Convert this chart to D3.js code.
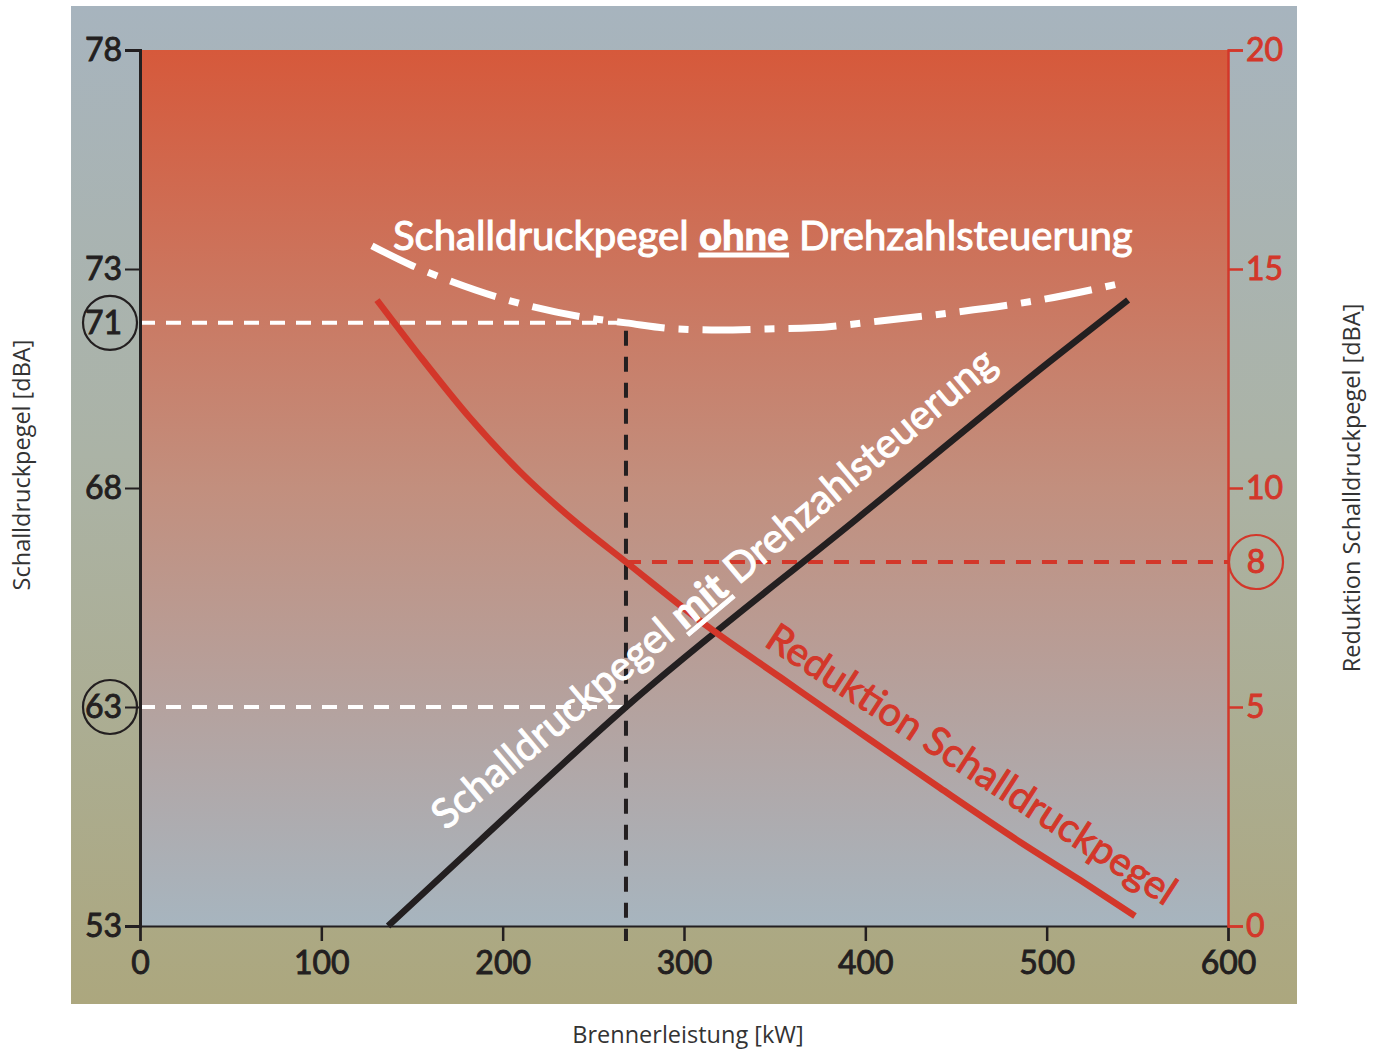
<!DOCTYPE html>
<html>
<head>
<meta charset="utf-8">
<script src="https://cdn.jsdelivr.net/npm/d3@7"></script>
<style>
  body { margin: 0; background: #fff; }
  svg { display: block; }
</style>
</head>
<body>
<svg id="chart"></svg>
<script>
// ---- data ----
const xTicks = [0, 100, 200, 300, 400, 500, 600];
const leftTicks = [53, 63, 68, 73, 78];
const rightTicks = [0, 5, 10, 15, 20];

// the drawing uses an uneven left axis; these are the values at its break points
const leftBreaks = [53, 63, 68, 71, 73, 78];
const rightBreaks = [0, 5, 8, 10, 15, 20];

// marked operating point
const markKw = 268;
const markOhne = 71;
const markMit = 63;
const markRed = 8;

// Schalldruckpegel mit Drehzahlsteuerung [dBA]
const mitKw = [136.8, 187.5, 268, 395.4, 501.8, 544.9];
const mitDb = [53.0, 56.9, 63.0, 67.3, 70.3, 71.85];

// Schalldruckpegel ohne Drehzahlsteuerung [dBA]
const ohneKw = [127.9, 150.5, 172.6, 198.5, 246.5, 268, 296.1, 319.8, 345.8, 370.6, 408.1, 446.7, 496.3, 544.3];
const ohneDb = [73.53, 73.07, 72.52, 71.93, 71.19, 71.0, 70.89, 70.87, 70.89, 70.91, 71.07, 71.37, 71.85, 72.52];

// Reduktion Schalldruckpegel [dBA]
const redKw = [130.7, 154.4, 182.0, 209.6, 238.8, 268, 314.3, 352.9, 397.1, 441.2, 485.3, 518.4, 548.7];
const redDb = [14.29, 13.01, 11.60, 10.37, 9.14, 8.0, 6.63, 5.62, 4.41, 3.15, 1.92, 1.05, 0.23];

// ---- layout ----
const W = 1378, H = 1050;
const plot = { left: 140, top: 50, right: 1228, bottom: 926 };
const red = "#d3372a";
const ink = "#231f20";

const svg = d3.select("#chart").attr("width", W).attr("height", H);
const defs = svg.append("defs");

const gOuter = defs.append("linearGradient").attr("id", "outerGrad")
  .attr("x1", 0).attr("y1", 0).attr("x2", 0).attr("y2", 1);
gOuter.append("stop").attr("offset", 0).attr("stop-color", "#a7b4be");
gOuter.append("stop").attr("offset", 0.45).attr("stop-color", "#abb3a6");
gOuter.append("stop").attr("offset", 1).attr("stop-color", "#aca77e");

const gPlot = defs.append("linearGradient").attr("id", "plotGrad")
  .attr("x1", 0).attr("y1", 0).attr("x2", 0).attr("y2", 1);
gPlot.append("stop").attr("offset", 0).attr("stop-color", "#d6593b");
gPlot.append("stop").attr("offset", 0.5).attr("stop-color", "#c28f7e");
gPlot.append("stop").attr("offset", 1).attr("stop-color", "#a7b5bf");

svg.append("rect").attr("width", W).attr("height", H).attr("fill", "#fff");
svg.append("rect").attr("x", 71).attr("y", 6).attr("width", 1226).attr("height", 998)
  .attr("fill", "url(#outerGrad)");
svg.append("rect").attr("x", plot.left).attr("y", plot.top)
  .attr("width", plot.right - plot.left).attr("height", plot.bottom - plot.top)
  .attr("fill", "url(#plotGrad)");

// scales
const x = d3.scaleLinear().domain([0, 600]).range([plot.left, plot.right]);
const yBase = d3.scaleLinear().domain([0, 20]).range([plot.bottom, plot.top]);
const yL = d3.scaleLinear().domain(leftBreaks).range([0, 5, 10, 13.77, 15, 20].map(yBase));
const yR = d3.scaleLinear().domain(rightBreaks).range([0, 5, 8.31, 10, 15, 20].map(yBase));

// reference dashes
const dash = "15 11";
svg.append("line")
  .attr("x1", x(0)).attr("x2", x(markKw)).attr("y1", yL(markOhne)).attr("y2", yL(markOhne))
  .attr("stroke", "#fff").attr("stroke-width", 4).attr("stroke-dasharray", dash);
svg.append("line")
  .attr("x1", x(0)).attr("x2", x(markKw)).attr("y1", yL(markMit)).attr("y2", yL(markMit))
  .attr("stroke", "#fff").attr("stroke-width", 4).attr("stroke-dasharray", dash);
svg.append("line")
  .attr("x1", x(markKw)).attr("x2", x(600)).attr("y1", yR(markRed)).attr("y2", yR(markRed))
  .attr("stroke", red).attr("stroke-width", 4).attr("stroke-dasharray", dash);
svg.append("line")
  .attr("x1", x(markKw)).attr("x2", x(markKw)).attr("y1", yL(markOhne) + 8).attr("y2", plot.bottom + 15)
  .attr("stroke", ink).attr("stroke-width", 4).attr("stroke-dasharray", dash);

// curves
const line = (ys) => d3.line().x(d => x(d[0])).y(d => ys(d[1])).curve(d3.curveMonotoneX);

svg.append("path").datum(d3.zip(mitKw, mitDb))
  .attr("d", line(yL)).attr("fill", "none").attr("stroke", ink).attr("stroke-width", 6.5);

svg.append("path").datum(d3.zip(redKw, redDb))
  .attr("d", line(yR)).attr("fill", "none").attr("stroke", red).attr("stroke-width", 6.5);

svg.append("path").datum(d3.zip(ohneKw, ohneDb))
  .attr("d", line(yL)).attr("fill", "none").attr("stroke", "#fff").attr("stroke-width", 7)
  .attr("stroke-dasharray", "48 14 10 14");

// axes
const tickFont = "Lato, 'Open Sans', sans-serif";
const styleTicks = (sel, c) => sel.selectAll(".tick text")
  .attr("fill", c).attr("stroke", c).attr("stroke-width", 0.9)
  .style("font", `400 32px ${tickFont}`);

const axL = svg.append("g").attr("transform", `translate(${plot.left},0)`)
  .call(d3.axisLeft(yL).tickValues(leftTicks).tickSize(15).tickPadding(3).tickFormat(d3.format("d")));
axL.select(".domain").attr("stroke", ink).attr("stroke-width", 3);
axL.selectAll(".tick line").attr("stroke", ink).attr("stroke-width", 2);
styleTicks(axL, ink);

const axB = svg.append("g").attr("transform", `translate(0,${plot.bottom})`)
  .call(d3.axisBottom(x).tickValues(xTicks).tickSize(15).tickPadding(10));
axB.select(".domain").attr("stroke", ink).attr("stroke-width", 2);
axB.selectAll(".tick line").attr("stroke", ink).attr("stroke-width", 2.5);
styleTicks(axB, ink);

const axR = svg.append("g").attr("transform", `translate(${plot.right},0)`)
  .call(d3.axisRight(yR).tickValues(rightTicks).tickSize(15).tickPadding(3));
axR.select(".domain").attr("stroke", red).attr("stroke-width", 2.5);
axR.selectAll(".tick line").attr("stroke", red).attr("stroke-width", 2.5);
styleTicks(axR, red);

// circled marks
svg.append("text").attr("x", x(0) - 18).attr("y", yL(markOhne)).attr("dy", "0.35em")
  .attr("text-anchor", "end").attr("fill", ink).attr("stroke", ink).attr("stroke-width", 0.9)
  .style("font", `400 32px ${tickFont}`).text(markOhne);
[[yL(markOhne), ink, 110], [yL(markMit), ink, 110], [yR(markRed), red, 1256]].forEach(([cy, c, cx]) => {
  svg.append("circle").attr("cx", cx).attr("cy", cy).attr("r", 27)
    .attr("fill", "none").attr("stroke", c).attr("stroke-width", 2.2);
});
svg.append("text").attr("x", 1256).attr("y", yR(markRed)).attr("dy", "0.35em")
  .attr("text-anchor", "middle").attr("fill", red).attr("stroke", red).attr("stroke-width", 1)
  .style("font", `400 32px ${tickFont}`).text(markRed);

// fit helper: size a label to the width it has in the picture
function fit(t, width) {
  const w = t.node().getComputedTextLength();
  const fs = parseFloat(t.style("font-size"));
  t.style("font-size", (fs * width / w) + "px");
}
const labelFont = "Lato, 'Open Sans', sans-serif";

function label(transform, c, parts, width) {
  const t = svg.append("text").attr("transform", transform)
    .attr("fill", c).attr("stroke", c).attr("stroke-width", 1)
    .style("font-family", labelFont).style("font-size", "34px").style("font-weight", 400);
  parts.forEach(([s, bold]) => {
    const sp = t.append("tspan").text(s);
    if (bold) sp.style("font-weight", 700).style("text-decoration", "underline");
  });
  fit(t, width);
  return t;
}

label(`translate(${x(139.5)},250)`, "#fff",
  [["Schalldruckpegel "], ["ohne", true], [" Drehzahlsteuerung"]], 740);
label("translate(446,831) rotate(-40)", "#fff",
  [["Schalldruckpegel "], ["mit", true], [" Drehzahlsteuerung"]], 722);
label("translate(763,645) rotate(33)", red,
  [["Reduktion Schalldruckpegel"]], 480);

// axis titles
const titleFont = "'Open Sans', 'Noto Sans', sans-serif";
svg.append("text").attr("transform", "translate(30,465) rotate(-90)")
  .attr("text-anchor", "middle").attr("fill", "#333").style("font", `400 23.5px ${titleFont}`)
  .text("Schalldruckpegel [dBA]");
svg.append("text").attr("transform", "translate(1360,488) rotate(-90)")
  .attr("text-anchor", "middle").attr("fill", "#333").style("font", `400 23.5px ${titleFont}`)
  .text("Reduktion Schalldruckpegel [dBA]");
svg.append("text").attr("x", 688).attr("y", 1043)
  .attr("text-anchor", "middle").attr("fill", "#333").style("font", `400 23.5px ${titleFont}`)
  .text("Brennerleistung [kW]");
</script>
</body>
</html>
